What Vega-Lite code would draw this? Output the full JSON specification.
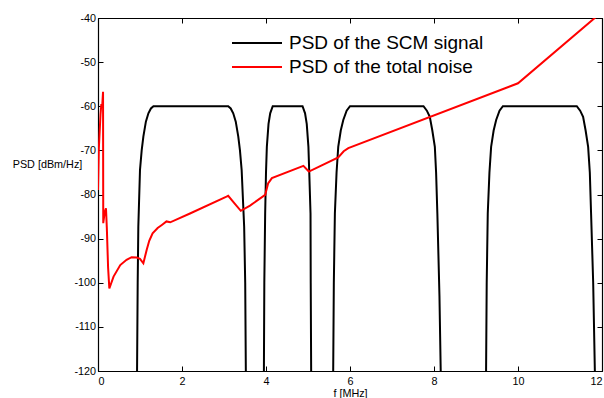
{
  "$schema": "https://vega.github.io/schema/vega-lite/v6.json",
  "width": 504,
  "height": 353,
  "autosize": {"type": "none"},
  "padding": {"left": 98, "top": 18, "right": 2, "bottom": 27},
  "background": "white",
  "config": {
    "view": {"stroke": "black", "strokeWidth": 1},
    "font": "Liberation Sans",
    "axis": {
      "labelFont": "Liberation Sans",
      "titleFont": "Liberation Sans",
      "labelColor": "black",
      "titleColor": "black",
      "domainColor": "black",
      "tickColor": "black",
      "grid": false,
      "labelFontSize": 10.8,
      "titleFontSize": 10.8,
      "titleFontWeight": "normal",
      "tickSize": -5,
      "domainWidth": 1.2,
      "labelExpr": "'' + datum.value"
    }
  },
  "data": {
    "values": [
      {"series": "PSD of the SCM signal", "band": 1, "i": 0, "f": 0.93, "psd": -120},
      {"series": "PSD of the SCM signal", "band": 1, "i": 1, "f": 0.945, "psd": -100},
      {"series": "PSD of the SCM signal", "band": 1, "i": 2, "f": 0.96, "psd": -87.3},
      {"series": "PSD of the SCM signal", "band": 1, "i": 3, "f": 1.0, "psd": -74.4},
      {"series": "PSD of the SCM signal", "band": 1, "i": 4, "f": 1.04, "psd": -70},
      {"series": "PSD of the SCM signal", "band": 1, "i": 5, "f": 1.08, "psd": -66.9},
      {"series": "PSD of the SCM signal", "band": 1, "i": 6, "f": 1.14, "psd": -63.5},
      {"series": "PSD of the SCM signal", "band": 1, "i": 7, "f": 1.2, "psd": -61.6},
      {"series": "PSD of the SCM signal", "band": 1, "i": 8, "f": 1.26, "psd": -60.5},
      {"series": "PSD of the SCM signal", "band": 1, "i": 9, "f": 1.32, "psd": -60},
      {"series": "PSD of the SCM signal", "band": 1, "i": 10, "f": 3.1, "psd": -60},
      {"series": "PSD of the SCM signal", "band": 1, "i": 11, "f": 3.16, "psd": -60.5},
      {"series": "PSD of the SCM signal", "band": 1, "i": 12, "f": 3.22, "psd": -61.6},
      {"series": "PSD of the SCM signal", "band": 1, "i": 13, "f": 3.28, "psd": -63.5},
      {"series": "PSD of the SCM signal", "band": 1, "i": 14, "f": 3.34, "psd": -66.9},
      {"series": "PSD of the SCM signal", "band": 1, "i": 15, "f": 3.38, "psd": -70},
      {"series": "PSD of the SCM signal", "band": 1, "i": 16, "f": 3.42, "psd": -74.4},
      {"series": "PSD of the SCM signal", "band": 1, "i": 17, "f": 3.48, "psd": -87.3},
      {"series": "PSD of the SCM signal", "band": 1, "i": 18, "f": 3.505, "psd": -100},
      {"series": "PSD of the SCM signal", "band": 1, "i": 19, "f": 3.52, "psd": -120},

      {"series": "PSD of the SCM signal", "band": 2, "i": 0, "f": 3.95, "psd": -120},
      {"series": "PSD of the SCM signal", "band": 2, "i": 1, "f": 3.96, "psd": -100},
      {"series": "PSD of the SCM signal", "band": 2, "i": 2, "f": 3.98, "psd": -84.3},
      {"series": "PSD of the SCM signal", "band": 2, "i": 3, "f": 4.0, "psd": -75},
      {"series": "PSD of the SCM signal", "band": 2, "i": 4, "f": 4.02, "psd": -69.2},
      {"series": "PSD of the SCM signal", "band": 2, "i": 5, "f": 4.06, "psd": -64},
      {"series": "PSD of the SCM signal", "band": 2, "i": 6, "f": 4.1, "psd": -61.6},
      {"series": "PSD of the SCM signal", "band": 2, "i": 7, "f": 4.16, "psd": -60},
      {"series": "PSD of the SCM signal", "band": 2, "i": 8, "f": 4.87, "psd": -60},
      {"series": "PSD of the SCM signal", "band": 2, "i": 9, "f": 4.93, "psd": -61.6},
      {"series": "PSD of the SCM signal", "band": 2, "i": 10, "f": 4.97, "psd": -64},
      {"series": "PSD of the SCM signal", "band": 2, "i": 11, "f": 5.01, "psd": -69.2},
      {"series": "PSD of the SCM signal", "band": 2, "i": 12, "f": 5.03, "psd": -75},
      {"series": "PSD of the SCM signal", "band": 2, "i": 13, "f": 5.06, "psd": -84.3},
      {"series": "PSD of the SCM signal", "band": 2, "i": 14, "f": 5.065, "psd": -100},
      {"series": "PSD of the SCM signal", "band": 2, "i": 15, "f": 5.075, "psd": -120},

      {"series": "PSD of the SCM signal", "band": 3, "i": 0, "f": 5.6, "psd": -120},
      {"series": "PSD of the SCM signal", "band": 3, "i": 1, "f": 5.615, "psd": -100},
      {"series": "PSD of the SCM signal", "band": 3, "i": 2, "f": 5.64, "psd": -84.3},
      {"series": "PSD of the SCM signal", "band": 3, "i": 3, "f": 5.68, "psd": -75},
      {"series": "PSD of the SCM signal", "band": 3, "i": 4, "f": 5.72, "psd": -69.2},
      {"series": "PSD of the SCM signal", "band": 3, "i": 5, "f": 5.78, "psd": -65.5},
      {"series": "PSD of the SCM signal", "band": 3, "i": 6, "f": 5.84, "psd": -63.1},
      {"series": "PSD of the SCM signal", "band": 3, "i": 7, "f": 5.92, "psd": -61},
      {"series": "PSD of the SCM signal", "band": 3, "i": 8, "f": 6.0, "psd": -60},
      {"series": "PSD of the SCM signal", "band": 3, "i": 9, "f": 7.75, "psd": -60},
      {"series": "PSD of the SCM signal", "band": 3, "i": 10, "f": 7.83, "psd": -61},
      {"series": "PSD of the SCM signal", "band": 3, "i": 11, "f": 7.9, "psd": -62.4},
      {"series": "PSD of the SCM signal", "band": 3, "i": 12, "f": 7.96, "psd": -65.5},
      {"series": "PSD of the SCM signal", "band": 3, "i": 13, "f": 8.02, "psd": -69.2},
      {"series": "PSD of the SCM signal", "band": 3, "i": 14, "f": 8.05, "psd": -75},
      {"series": "PSD of the SCM signal", "band": 3, "i": 15, "f": 8.08, "psd": -84.3},
      {"series": "PSD of the SCM signal", "band": 3, "i": 16, "f": 8.13, "psd": -103},
      {"series": "PSD of the SCM signal", "band": 3, "i": 17, "f": 8.16, "psd": -120},

      {"series": "PSD of the SCM signal", "band": 4, "i": 0, "f": 9.24, "psd": -120},
      {"series": "PSD of the SCM signal", "band": 4, "i": 1, "f": 9.255, "psd": -100},
      {"series": "PSD of the SCM signal", "band": 4, "i": 2, "f": 9.28, "psd": -84.3},
      {"series": "PSD of the SCM signal", "band": 4, "i": 3, "f": 9.32, "psd": -75},
      {"series": "PSD of the SCM signal", "band": 4, "i": 4, "f": 9.36, "psd": -69.2},
      {"series": "PSD of the SCM signal", "band": 4, "i": 5, "f": 9.42, "psd": -65.5},
      {"series": "PSD of the SCM signal", "band": 4, "i": 6, "f": 9.48, "psd": -63.1},
      {"series": "PSD of the SCM signal", "band": 4, "i": 7, "f": 9.56, "psd": -61},
      {"series": "PSD of the SCM signal", "band": 4, "i": 8, "f": 9.64, "psd": -60},
      {"series": "PSD of the SCM signal", "band": 4, "i": 9, "f": 11.4, "psd": -60},
      {"series": "PSD of the SCM signal", "band": 4, "i": 10, "f": 11.48, "psd": -61},
      {"series": "PSD of the SCM signal", "band": 4, "i": 11, "f": 11.55, "psd": -62.4},
      {"series": "PSD of the SCM signal", "band": 4, "i": 12, "f": 11.61, "psd": -65.5},
      {"series": "PSD of the SCM signal", "band": 4, "i": 13, "f": 11.67, "psd": -69.2},
      {"series": "PSD of the SCM signal", "band": 4, "i": 14, "f": 11.71, "psd": -75},
      {"series": "PSD of the SCM signal", "band": 4, "i": 15, "f": 11.74, "psd": -84.3},
      {"series": "PSD of the SCM signal", "band": 4, "i": 16, "f": 11.79, "psd": -100},
      {"series": "PSD of the SCM signal", "band": 4, "i": 17, "f": 11.83, "psd": -120},

      {"series": "PSD of the total noise", "band": 0, "i": 0, "f": 0, "psd": -79},
      {"series": "PSD of the total noise", "band": 0, "i": 1, "f": 0.02, "psd": -69.5},
      {"series": "PSD of the total noise", "band": 0, "i": 2, "f": 0.06, "psd": -61.8},
      {"series": "PSD of the total noise", "band": 0, "i": 3, "f": 0.08, "psd": -59.5},
      {"series": "PSD of the total noise", "band": 0, "i": 4, "f": 0.1, "psd": -60},
      {"series": "PSD of the total noise", "band": 0, "i": 5, "f": 0.12, "psd": -56.7},
      {"series": "PSD of the total noise", "band": 0, "i": 6, "f": 0.125, "psd": -86.5},
      {"series": "PSD of the total noise", "band": 0, "i": 7, "f": 0.16, "psd": -84},
      {"series": "PSD of the total noise", "band": 0, "i": 8, "f": 0.19, "psd": -83.1},
      {"series": "PSD of the total noise", "band": 0, "i": 9, "f": 0.21, "psd": -87.5},
      {"series": "PSD of the total noise", "band": 0, "i": 10, "f": 0.24, "psd": -96.5},
      {"series": "PSD of the total noise", "band": 0, "i": 11, "f": 0.27, "psd": -101.3},
      {"series": "PSD of the total noise", "band": 0, "i": 12, "f": 0.37, "psd": -98.6},
      {"series": "PSD of the total noise", "band": 0, "i": 13, "f": 0.53, "psd": -96.0},
      {"series": "PSD of the total noise", "band": 0, "i": 14, "f": 0.68, "psd": -94.8},
      {"series": "PSD of the total noise", "band": 0, "i": 15, "f": 0.8, "psd": -94.2},
      {"series": "PSD of the total noise", "band": 0, "i": 16, "f": 0.92, "psd": -94.3},
      {"series": "PSD of the total noise", "band": 0, "i": 17, "f": 1.0, "psd": -94.6},
      {"series": "PSD of the total noise", "band": 0, "i": 18, "f": 1.08, "psd": -95.6},
      {"series": "PSD of the total noise", "band": 0, "i": 19, "f": 1.16, "psd": -92.5},
      {"series": "PSD of the total noise", "band": 0, "i": 20, "f": 1.22, "psd": -90.5},
      {"series": "PSD of the total noise", "band": 0, "i": 21, "f": 1.3, "psd": -88.8},
      {"series": "PSD of the total noise", "band": 0, "i": 22, "f": 1.42, "psd": -87.6},
      {"series": "PSD of the total noise", "band": 0, "i": 23, "f": 1.52, "psd": -86.9},
      {"series": "PSD of the total noise", "band": 0, "i": 24, "f": 1.63, "psd": -86.1},
      {"series": "PSD of the total noise", "band": 0, "i": 25, "f": 1.72, "psd": -86.3},
      {"series": "PSD of the total noise", "band": 0, "i": 26, "f": 2.19, "psd": -84.3},
      {"series": "PSD of the total noise", "band": 0, "i": 27, "f": 3.06, "psd": -80.5},
      {"series": "PSD of the total noise", "band": 0, "i": 28, "f": 3.1, "psd": -80.3},
      {"series": "PSD of the total noise", "band": 0, "i": 29, "f": 3.25, "psd": -82},
      {"series": "PSD of the total noise", "band": 0, "i": 30, "f": 3.4, "psd": -83.7},
      {"series": "PSD of the total noise", "band": 0, "i": 31, "f": 3.62, "psd": -82.5},
      {"series": "PSD of the total noise", "band": 0, "i": 32, "f": 3.98, "psd": -80.1},
      {"series": "PSD of the total noise", "band": 0, "i": 33, "f": 4.05, "psd": -77.5},
      {"series": "PSD of the total noise", "band": 0, "i": 34, "f": 4.14, "psd": -76.3},
      {"series": "PSD of the total noise", "band": 0, "i": 35, "f": 4.89, "psd": -73.5},
      {"series": "PSD of the total noise", "band": 0, "i": 36, "f": 5.02, "psd": -74.8},
      {"series": "PSD of the total noise", "band": 0, "i": 37, "f": 5.72, "psd": -71.6},
      {"series": "PSD of the total noise", "band": 0, "i": 38, "f": 5.85, "psd": -70.2},
      {"series": "PSD of the total noise", "band": 0, "i": 39, "f": 5.96, "psd": -69.5},
      {"series": "PSD of the total noise", "band": 0, "i": 40, "f": 10.0, "psd": -54.8},
      {"series": "PSD of the total noise", "band": 0, "i": 41, "f": 12.0, "psd": -38.6}
    ]
  },
  "encoding": {
    "x": {"field": "f", "type": "quantitative", "scale": {"domain": [0, 12], "nice": false, "zero": false}},
    "y": {"field": "psd", "type": "quantitative", "scale": {"domain": [-120, -40], "nice": false, "zero": false}},
    "color": {
      "field": "series",
      "type": "nominal",
      "scale": {"domain": ["PSD of the SCM signal", "PSD of the total noise"], "range": ["black", "#ff0000"]},
      "legend": {
        "title": null,
        "orient": "none",
        "legendX": 133,
        "legendY": 14,
        "padding": 0,
        "symbolType": "stroke",
        "symbolSize": 2500,
        "symbolStrokeWidth": 2,
        "labelFont": "Liberation Sans",
        "labelFontSize": 19,
        "labelColor": "black",
        "labelLimit": 400,
        "labelOffset": 6,
        "clipHeight": 22,
        "rowPadding": 2
      }
    },
    "detail": {"field": "band", "type": "nominal"},
    "order": {"field": "i", "type": "quantitative"}
  },
  "layer": [
    {
      "transform": [{"filter": "datum.series === 'PSD of the SCM signal'"}],
      "mark": {"type": "line", "strokeWidth": 2, "clip": true},
      "encoding": {
        "x": {"field": "f", "type": "quantitative", "axis": {"orient": "bottom", "values": [0, 2, 4, 6, 8, 10, 12], "title": "f [MHz]", "labelPadding": 9, "titlePadding": 2}},
        "y": {"field": "psd", "type": "quantitative", "axis": {"orient": "left", "values": [-120, -110, -100, -90, -80, -70, -60, -50, -40], "title": "PSD [dBm/Hz]", "titleAngle": 0, "titleAlign": "center", "titleBaseline": "middle", "titleX": -51, "titleY": 146, "labelPadding": 7.5}}
      }
    },
    {
      "transform": [{"filter": "datum.series === 'PSD of the total noise'"}],
      "mark": {"type": "line", "strokeWidth": 2, "clip": true},
      "encoding": {
        "x": {"field": "f", "type": "quantitative", "axis": {"orient": "top", "values": [0, 2, 4, 6, 8, 10, 12], "labels": false, "title": null}},
        "y": {"field": "psd", "type": "quantitative", "axis": {"orient": "right", "values": [-120, -110, -100, -90, -80, -70, -60, -50, -40], "labels": false, "title": null}}
      }
    }
  ],
  "resolve": {"axis": {"x": "independent", "y": "independent"}}
}
